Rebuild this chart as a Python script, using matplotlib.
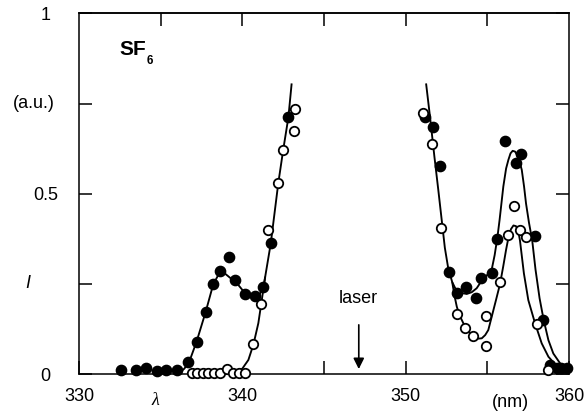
#!/usr/bin/env python3
# SF6 emission spectrum: filled vs open symbols with fitted curves

import matplotlib
matplotlib.use("Agg")
import matplotlib.pyplot as plt

plt.rcParams["font.family"] = ["Liberation Sans", "DejaVu Sans"]

# measured points, filled symbols
filled_x = [332.6, 333.5, 334.1, 334.76, 335.3, 336.0, 336.7, 337.22, 337.76, 338.22,
            338.63, 339.17, 339.57, 340.15, 340.76, 341.29, 341.74, 342.82,
            351.19, 351.66, 352.1, 352.68, 353.17, 353.68, 354.31, 354.6, 355.27,
            355.6, 356.09, 356.76, 357.09, 357.9, 358.43, 358.84, 359.25, 359.5, 359.9]
filled_y = [0.011, 0.011, 0.016, 0.007, 0.011, 0.010, 0.034, 0.090, 0.173, 0.249,
            0.286, 0.325, 0.261, 0.222, 0.217, 0.242, 0.362, 0.712,
            0.712, 0.686, 0.577, 0.284, 0.226, 0.240, 0.210, 0.265, 0.281,
            0.374, 0.647, 0.585, 0.611, 0.383, 0.150, 0.025, 0.016, 0.016, 0.016]

# measured points, open symbols
open_x = [336.9, 337.25, 337.57, 337.92, 338.27, 338.63, 339.08, 339.45, 339.8, 340.17,
          340.68, 341.12, 341.55, 342.2, 342.5, 343.19, 343.23,
          351.05, 351.6, 352.17, 353.13, 353.64, 354.1, 354.92, 354.9, 355.78,
          356.27, 356.62, 356.98, 357.37, 358.03, 358.74]
open_y = [0.002, 0.002, 0.002, 0.002, 0.002, 0.002, 0.014, 0.002, 0.002, 0.002,
          0.082, 0.194, 0.400, 0.529, 0.621, 0.675, 0.735,
          0.725, 0.638, 0.404, 0.166, 0.127, 0.106, 0.079, 0.162, 0.256,
          0.386, 0.466, 0.400, 0.381, 0.138, 0.011]

# fitted curves
fit1_x = [336.18, 336.45, 336.75, 337.2, 337.76, 338.22, 338.63, 338.9, 339.3, 339.7,
          340.15, 340.6, 341.0, 341.29, 341.74, 342.2, 342.5, 342.82, 343.02]
fit1_y = [0.004, 0.015, 0.034, 0.090, 0.173, 0.249, 0.283, 0.280, 0.265, 0.250,
          0.225, 0.215, 0.216, 0.240, 0.362, 0.529, 0.621, 0.712, 0.806]

fit2_x = [339.3, 339.66, 340.0, 340.37, 340.68, 340.98, 341.19, 341.4]
fit2_y = [0.002, 0.006, 0.015, 0.039, 0.082, 0.141, 0.205, 0.270]

fit3_x = [351.25, 351.5, 351.76, 352.0, 352.2, 352.4, 352.6, 352.85, 353.1, 353.4,
          353.74, 354.05, 354.35, 354.7, 355.0, 355.27, 355.45, 355.62, 355.75, 355.98,
          356.15, 356.29, 356.42, 356.55, 356.7, 356.85, 357.0, 357.11, 357.25, 357.37,
          357.55, 357.75, 357.95, 358.2, 358.45, 358.74, 359.04, 359.45, 359.96]
fit3_y = [0.806, 0.710, 0.603, 0.510, 0.430, 0.350, 0.295, 0.255, 0.232, 0.225,
          0.222, 0.227, 0.238, 0.262, 0.275, 0.290, 0.330, 0.380, 0.427, 0.520,
          0.570, 0.594, 0.612, 0.619, 0.617, 0.605, 0.585, 0.566, 0.520, 0.473,
          0.420, 0.370, 0.290, 0.210, 0.150, 0.094, 0.057, 0.030, 0.015]

fit4_x = [352.85, 353.0, 353.13, 353.3, 353.53, 353.85, 354.15, 354.4, 354.66, 354.87,
          355.06, 355.27, 355.53, 355.78, 355.98, 356.15, 356.3, 356.45, 356.6, 356.76,
          356.9, 357.0, 357.24, 357.51, 357.92, 358.33, 358.74, 359.25, 359.96]
fit4_y = [0.255, 0.215, 0.187, 0.163, 0.141, 0.118, 0.103, 0.098, 0.099, 0.108,
          0.122, 0.159, 0.205, 0.250, 0.300, 0.345, 0.380, 0.402, 0.412, 0.410,
          0.395, 0.370, 0.279, 0.205, 0.141, 0.085, 0.048, 0.022, 0.006]

laser_nm = 347.13

fig = plt.figure(figsize=(5.87, 4.11), dpi=100)
ax = fig.add_axes([0.1346, 0.09, 0.8347, 0.8772])

for fx, fy in [(fit1_x, fit1_y), (fit2_x, fit2_y), (fit3_x, fit3_y), (fit4_x, fit4_y)]:
    ax.plot(fx, fy, color="black", lw=1.35, zorder=2, solid_capstyle="butt")

ax.plot(filled_x, filled_y, "o", color="black", ms=7.4, zorder=3, clip_on=False)
ax.plot(open_x, open_y, "o", mfc="white", mec="black", mew=1.3, ms=6.8,
        zorder=4, clip_on=False)

ax.set_xlim(330, 360)
ax.set_ylim(0, 1)

ax.set_xticks([330, 340, 350, 360])
ax.set_xticks([345, 355], minor=True)
ax.set_yticks([0, 0.5, 1])
ax.set_yticklabels(["0", "0.5", "1"])
ax.set_yticks([0.25, 0.75], minor=True)
ax.tick_params(which="both", direction="in", length=9.5, width=1.1,
               right=True, top=False, labelsize=13)
ax.tick_params(axis="x", pad=10)
ax.tick_params(axis="y", pad=24)
for lab in ax.get_yticklabels():
    lab.set_horizontalalignment("center")
ax.xaxis.get_major_ticks()[1].tick1line.set_visible(False)

top = ax.secondary_xaxis("top")
top.set_xticks([335, 340, 345, 350, 355])
top.tick_params(direction="in", length=9.5, width=1.1, labeltop=False)
top.xaxis.set_minor_locator(plt.NullLocator())

for s in ax.spines.values():
    s.set_linewidth(1.1)
top.spines["top"].set_linewidth(1.1)

# axis annotations
ax.text(-0.092, 0.75, "(a.u.)", transform=ax.transAxes, ha="center", va="center", fontsize=13)
ax.text(-0.104, 0.25, "I", transform=ax.transAxes, ha="center", va="center",
        fontsize=13, style="italic")
ax.text(334.65, -0.074, "λ", transform=ax.get_xaxis_transform(), ha="center", va="center",
        fontsize=13, style="italic", family=["Liberation Serif", "DejaVu Serif"])
ax.text(356.4, -0.078, "(nm)", transform=ax.get_xaxis_transform(), ha="center", va="center",
        fontsize=13)

ax.text(332.5, 0.90, "SF", ha="left", va="center", fontsize=15, fontweight="bold")
ax.text(334.15, 0.868, "6", ha="left", va="center", fontsize=8.5, fontweight="bold")

ax.annotate("", xy=(laser_nm, 0.006), xytext=(laser_nm, 0.144),
            arrowprops=dict(arrowstyle="-|>", color="black", lw=1.2, mutation_scale=16))
ax.text(laser_nm, 0.21, "laser", ha="center", va="center", fontsize=13)

fig.savefig("out.png", dpi=100)
